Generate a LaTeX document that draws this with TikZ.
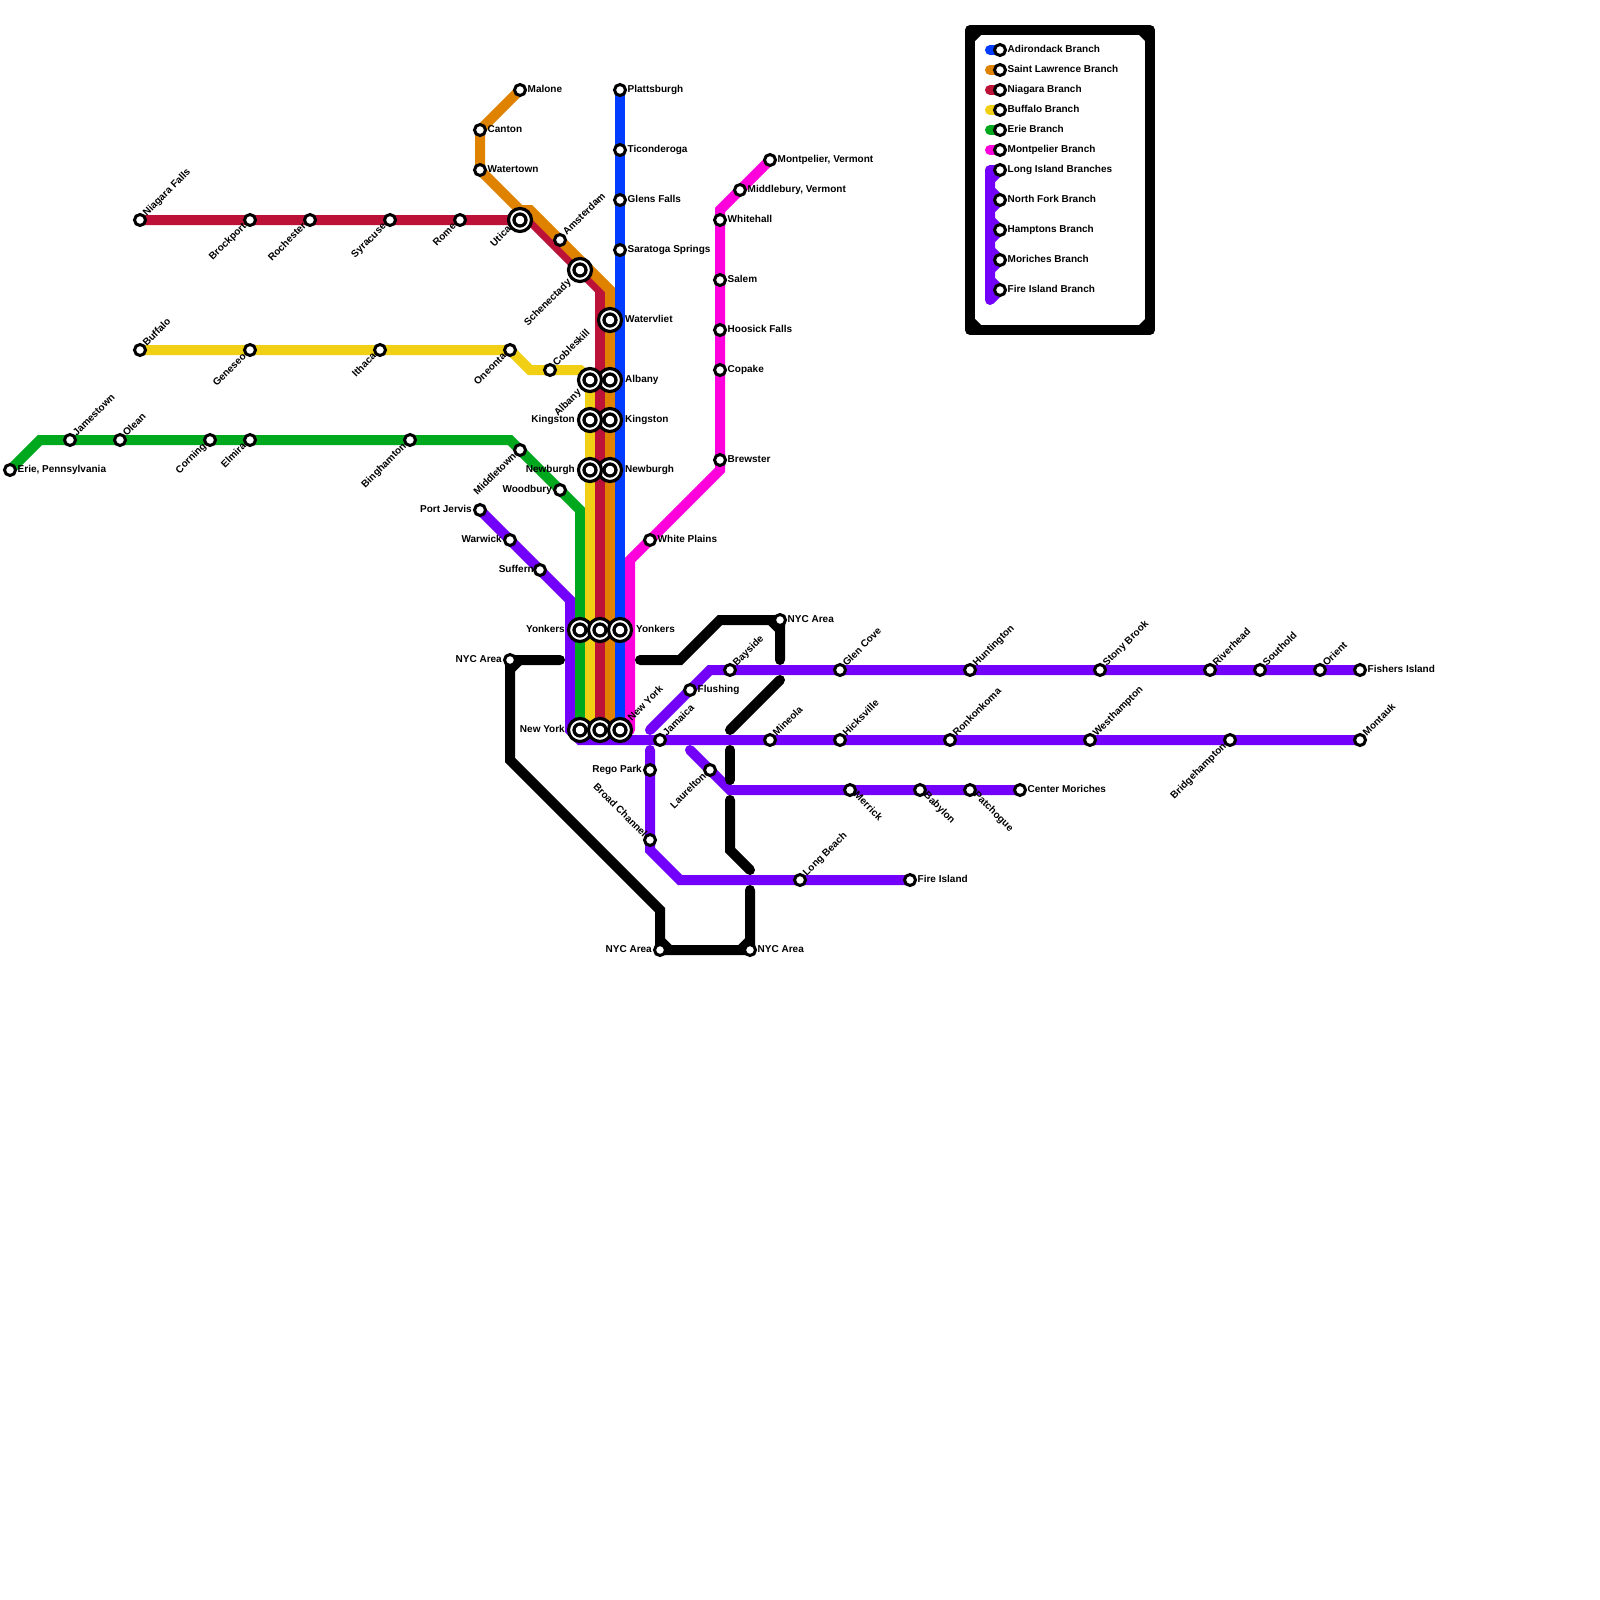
\documentclass[tikz,border=0pt]{standalone}
\usepackage{fontspec}
\setmainfont{Liberation Sans}
\pgfdeclarelayer{bg}
\pgfsetlayers{bg,main}
\definecolor{cBlue}{RGB}{0,60,255}
\definecolor{cOrange}{RGB}{222,130,0}
\definecolor{cRed}{RGB}{188,18,56}
\definecolor{cYellow}{RGB}{240,207,20}
\definecolor{cGreen}{RGB}{0,168,30}
\definecolor{cMagenta}{RGB}{255,0,221}
\definecolor{cPurple}{RGB}{115,0,250}
\tikzset{
  ln/.style={line width=10pt,line cap=round},
  blk/.style={ln,draw=black},
  chamfer/.style={line width=8pt,draw=black,line cap=butt},
  stn/.style={circle,draw=black,fill=white,line width=3pt,minimum size=11pt,inner sep=0pt},
  xout/.style={circle,draw=black,fill=white,line width=3.2pt,minimum size=23pt,inner sep=0pt},
  xin/.style={circle,draw=black,fill=white,line width=3.3pt,minimum size=12pt,inner sep=0pt},
  lab/.style={inner sep=0pt,font=\bfseries\fontsize{10}{11}\selectfont,text=black,text height=7pt,text depth=2pt},
  lE/.style={lab,anchor=west},
  lW/.style={lab,anchor=east},
  lNE/.style={lab,anchor=west,rotate=45},
  lSW/.style={lab,anchor=east,rotate=45},
  lSE/.style={lab,anchor=west,rotate=-45},
  lNW/.style={lab,anchor=east,rotate=-45},
}
% name, x, y, label style, label offset, text
\newcommand{\St}[6]{\node[stn] (#1) at (#2,#3) {}; \node[#4] (#1-l) at ([shift={(#5)}]#1.center) {#6};}
\newcommand{\Xs}[6]{\node[xout] (#1) at (#2,#3) {}; \node[xin] (#1-i) at (#1.center) {}; \node[#4] (#1-l) at ([shift={(#5)}]#1.center) {#6};}
\newcommand{\Xn}[3]{\node[xout] (#1) at (#2,#3) {}; \node[xin] (#1-i) at (#1.center) {};}
\begin{document}
\begin{tikzpicture}[x=1pt,y=-1pt]
\useasboundingbox (0,0) rectangle (1600,1600);
\begin{pgfonlayer}{bg}
\fill[white] (0,0) rectangle (1600,1600);
\end{pgfonlayer}
% Adirondack
\St{plattsburgh}{620}{90}{lE}{7.5,0}{Plattsburgh}
\St{ticonderoga}{620}{150}{lE}{7.5,0}{Ticonderoga}
\St{glens}{620}{200}{lE}{7.5,0}{Glens Falls}
\St{saratoga}{620}{250}{lE}{7.5,0}{Saratoga Springs}
\Xs{watervliet}{610}{320}{lE}{15,0}{Watervliet}
\Xs{albanyR}{610}{380}{lE}{15,0}{Albany}
\Xs{kingstonR}{610}{420}{lE}{15,0}{Kingston}
\Xs{newburghR}{610}{470}{lE}{15,0}{Newburgh}
\Xs{albanyL}{590}{380}{lSW}{-10,11}{Albany}
\Xs{kingstonL}{590}{420}{lW}{-15,0}{Kingston}
\Xs{newburghL}{590}{470}{lW}{-15,0}{Newburgh}
\Xs{yonkersG}{580}{630}{lW}{-15,0}{Yonkers}
\Xn{yonkersR}{600}{630}
\Xs{yonkersB}{620}{630}{lE}{16,0}{Yonkers}
\Xs{nyG}{580}{730}{lW}{-15,0}{New York}
\Xn{nyR}{600}{730}
\Xs{nyB}{620}{730}{lNE}{10,-10}{New York}
% Saint Lawrence
\St{malone}{520}{90}{lE}{7.5,0}{Malone}
\St{canton}{480}{130}{lE}{7.5,0}{Canton}
\St{watertown}{480}{170}{lE}{7.5,0}{Watertown}
\St{amsterdam}{560}{240}{lNE}{5,-6}{Amsterdam}
\Xs{schenectady}{580}{270}{lSW}{-10,11}{Schenectady}
\Xs{utica}{520}{220}{lSW}{-10,8}{Utica}
% Niagara
\St{niagara}{140}{220}{lNE}{5,-5}{Niagara Falls}
\St{brockport}{250}{220}{lSW}{-5,5}{Brockport}
\St{rochester}{310}{220}{lSW}{-5,5}{Rochester}
\St{syracuse}{390}{220}{lSW}{-5,5}{Syracuse}
\St{rome}{460}{220}{lSW}{-5,5}{Rome}
% Buffalo
\St{buffalo}{140}{350}{lNE}{5,-5}{Buffalo}
\St{geneseo}{250}{350}{lSW}{-5,5}{Geneseo}
\St{ithaca}{380}{350}{lSW}{-5,5}{Ithaca}
\St{oneonta}{510}{350}{lSW}{-5,5}{Oneonta}
\St{cobleskill}{550}{370}{lNE}{5,-5}{Cobleskill}
% Erie
\St{erie}{10}{470}{lE}{7.5,0}{Erie, Pennsylvania}
\St{jamestown}{70}{440}{lNE}{5,-5}{Jamestown}
\St{olean}{120}{440}{lNE}{5,-5}{Olean}
\St{corning}{210}{440}{lSW}{-5,5}{Corning}
\St{elmira}{250}{440}{lSW}{-5,5}{Elmira}
\St{binghamton}{410}{440}{lSW}{-5,5}{Binghamton}
\St{middletown}{520}{450}{lSW}{-5,5}{Middletown}
\St{woodbury}{560}{490}{lW}{-8,0}{Woodbury}
% Montpelier
\St{montpelier}{770}{160}{lE}{7.5,0}{Montpelier, Vermont}
\St{middlebury}{740}{190}{lE}{7.5,0}{Middlebury, Vermont}
\St{whitehall}{720}{220}{lE}{7.5,0}{Whitehall}
\St{salem}{720}{280}{lE}{7.5,0}{Salem}
\St{hoosick}{720}{330}{lE}{7.5,0}{Hoosick Falls}
\St{copake}{720}{370}{lE}{7.5,0}{Copake}
\St{brewster}{720}{460}{lE}{7.5,0}{Brewster}
\St{whiteplains}{650}{540}{lE}{7.5,0}{White Plains}
% Long Island
\St{portjervis}{480}{510}{lW}{-8,0}{Port Jervis}
\St{warwick}{510}{540}{lW}{-8,0}{Warwick}
\St{suffern}{540}{570}{lW}{-6,0}{Suffern}
\St{nycA}{780}{620}{lE}{7.5,0}{NYC Area}
\St{nycB}{510}{660}{lW}{-8,0}{NYC Area}
\St{nycC}{660}{950}{lW}{-8,0}{NYC Area}
\St{nycD}{750}{950}{lE}{7.5,0}{NYC Area}
\St{bayside}{730}{670}{lNE}{5,-5}{Bayside}
\St{glencove}{840}{670}{lNE}{5,-5}{Glen Cove}
\St{huntington}{970}{670}{lNE}{5,-5}{Huntington}
\St{stonybrook}{1100}{670}{lNE}{5,-5}{Stony Brook}
\St{riverhead}{1210}{670}{lNE}{5,-5}{Riverhead}
\St{southold}{1260}{670}{lNE}{5,-5}{Southold}
\St{orient}{1320}{670}{lNE}{5,-5}{Orient}
\St{fishers}{1360}{670}{lE}{7.5,0}{Fishers Island}
\St{flushing}{690}{690}{lE}{7.5,0}{Flushing}
\St{jamaica}{660}{740}{lNE}{5,-5}{Jamaica}
\St{mineola}{770}{740}{lNE}{5,-5}{Mineola}
\St{hicksville}{840}{740}{lNE}{5,-5}{Hicksville}
\St{ronkonkoma}{950}{740}{lNE}{5,-5}{Ronkonkoma}
\St{westhampton}{1090}{740}{lNE}{5,-5}{Westhampton}
\St{bridgehampton}{1230}{740}{lSW}{-5,5}{Bridgehampton}
\St{montauk}{1360}{740}{lNE}{5,-5}{Montauk}
\St{regopark}{650}{770}{lW}{-8,0}{Rego Park}
\St{laurelton}{710}{770}{lSW}{-5,5}{Laurelton}
\St{merrick}{850}{790}{lSE}{5,4}{Merrick}
\St{babylon}{920}{790}{lSE}{5,4}{Babylon}
\St{patchogue}{970}{790}{lSE}{5,4}{Patchogue}
\St{centermoriches}{1020}{790}{lE}{7.5,0}{Center Moriches}
\St{broadchannel}{650}{840}{lNW}{-5,-4}{Broad Channel}
\St{longbeach}{800}{880}{lNE}{5,-5}{Long Beach}
\St{fireisland}{910}{880}{lE}{7.5,0}{Fire Island}
% Legend
\St{kA}{1000}{50}{lE}{7.5,0}{Adirondack Branch}
\St{kB}{1000}{70}{lE}{7.5,0}{Saint Lawrence Branch}
\St{kC}{1000}{90}{lE}{7.5,0}{Niagara Branch}
\St{kD}{1000}{110}{lE}{7.5,0}{Buffalo Branch}
\St{kE}{1000}{130}{lE}{7.5,0}{Erie Branch}
\St{kF}{1000}{150}{lE}{7.5,0}{Montpelier Branch}
\St{kG}{1000}{170}{lE}{7.5,0}{Long Island Branches}
\St{kH}{1000}{200}{lE}{7.5,0}{North Fork Branch}
\St{kI}{1000}{230}{lE}{7.5,0}{Hamptons Branch}
\St{kJ}{1000}{260}{lE}{7.5,0}{Moriches Branch}
\St{kK}{1000}{290}{lE}{7.5,0}{Fire Island Branch}
% free ends of the black and purple stubs
\coordinate (bkW) at (560,660);
\coordinate (bkE) at (640,660);
\coordinate (bkNE) at (780,660);
\coordinate (bkMa) at (730,730);
\coordinate (bkMb) at (780,680);
\coordinate (bkLa) at (730,750);
\coordinate (bkLb) at (730,780);
\coordinate (bkSa) at (730,800);
\coordinate (bkSb) at (750,870);
\coordinate (bkFi) at (750,890);
\coordinate (puN) at (650,730);
\coordinate (puS) at (690,750);
\coordinate (puF) at (650,750);
\begin{pgfonlayer}{bg}
\draw[ln,draw=cPurple] (portjervis.center) -- (570,600) -- (570,730) -- (580,740) -- (montauk.center);
\draw[ln,draw=cPurple] (puN) -- (710,670) -- (fishers.center);
\draw[ln,draw=cPurple] (puS) -- (730,790) -- (centermoriches.center);
\draw[ln,draw=cPurple] (puF) -- (650,850) -- (680,880) -- (fireisland.center);
\draw[ln,draw=cGreen] (erie.center) -- (40,440) -- (510,440) -- (580,510) -- (nyG.center);
\draw[ln,draw=cYellow] (buffalo.center) -- (510,350) -- (530,370) -- (580,370) -- (590,380) -- (590,730);
\draw[ln,draw=cRed] (niagara.center) -- (530,220) -- (600,290) -- (nyR.center);
\draw[ln,draw=cOrange] (malone.center) -- (480,130) -- (480,170) -- (520,210) -- (530,210) -- (610,290) -- (610,730);
\draw[ln,draw=cBlue] (plattsburgh.center) -- (nyB.center);
\draw[ln,draw=cMagenta] (montpelier.center) -- (720,210) -- (720,470) -- (630,560) -- (630,730);
% black links
\draw[blk] (bkW) -- (nycB.center) -- (510,760) -- (660,910) -- (nycC.center) -- (nycD.center) -- (bkFi);
\draw[blk] (bkE) -- (680,660) -- (720,620) -- (nycA.center) -- (bkNE);
\draw[blk] (bkMa) -- (bkMb);
\draw[blk] (bkLa) -- (bkLb);
\draw[blk] (bkSa) -- (730,850) -- (bkSb);
\draw[chamfer] (510,671) -- (521,660);
\draw[chamfer] (660,939) -- (671,950);
\draw[chamfer] (739,950) -- (750,939);
\draw[chamfer] (769,620) -- (780,631);
% legend
\draw[line width=10pt,line join=round,draw=black] (970,30) rectangle (1150,330);
\fill[black] (975,35) -- (981,35) -- (975,41) -- cycle;
\fill[black] (1145,35) -- (1139,35) -- (1145,41) -- cycle;
\fill[black] (975,325) -- (981,325) -- (975,319) -- cycle;
\fill[black] (1145,325) -- (1139,325) -- (1145,319) -- cycle;
\draw[ln,draw=cBlue] (990,50) -- (kA.center);
\draw[ln,draw=cOrange] (990,70) -- (kB.center);
\draw[ln,draw=cRed] (990,90) -- (kC.center);
\draw[ln,draw=cYellow] (990,110) -- (kD.center);
\draw[ln,draw=cGreen] (990,130) -- (kE.center);
\draw[ln,draw=cMagenta] (990,150) -- (kF.center);
\draw[ln,draw=cPurple,line join=round] (990,300) -- (990,170) -- (kG.center) -- (990,180) -- (990,190) -- (kH.center) -- (990,210) -- (990,220) -- (kI.center) -- (990,240) -- (990,250) -- (kJ.center) -- (990,270) -- (990,280) -- (kK.center) -- (990,300);
\end{pgfonlayer}
\end{tikzpicture}
\end{document}
